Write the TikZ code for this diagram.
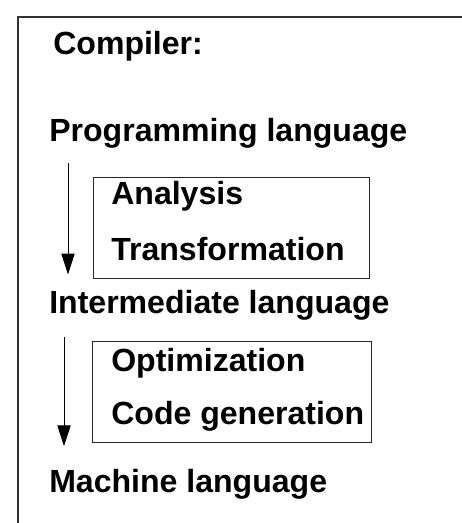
\documentclass[tikz,border=0pt]{standalone}
\usepackage{fontspec}
\setmainfont{Liberation Sans}
\usepackage{tikz}
\usetikzlibrary{arrows.meta,positioning}
\tikzset{>=stealth}

\begin{document}
\begin{tikzpicture}[every node/.style={font=\fontsize{22.8}{27}\selectfont\bfseries, inner sep=0pt, anchor=base west},
	stagebox/.style={draw=black!85, line width=0.6pt},
	flow/.style={line width=0.6pt, -{Triangle[length=5.2mm,width=3.3mm]}}]
	\useasboundingbox (0,0) rectangle (11.55,13.075);
	% frame (runs off the page on the right and bottom)
	\draw[line width=0.8pt, black!80] (0.45,-0.5) rectangle (12,12.65);
	% title
	\node (title) at (1.325,11.7) {Compiler:};
	% languages
	\node (prog) at (1.225,9.525) {Programming language};
	\node (inter) at (1.225,5.225) {Intermediate language};
	\node (mach) at (1.225,0.75) {Machine language};
	% first stage
	\draw[stagebox] (2.325,6.125) rectangle (9.225,8.65);
	\node (ana) at (2.775,7.95) {Analysis};
	\node (trans) at (2.775,6.55) {Transformation};
	% second stage
	\draw[stagebox] (2.3,2.025) rectangle (9.275,4.55);
	\node (opt) at (2.775,3.775) {Optimization};
	\node (gen) at (2.775,2.45) {Code generation};
	% arrows
	\draw[flow, shorten <=3.5mm, shorten >=4mm] ([xshift=4.75mm]prog.south west) -- ([xshift=4.75mm]inter.north west);
	\draw[flow, shorten <=4mm, shorten >=5.8mm] ([xshift=3.75mm]inter.south west) -- ([xshift=3.75mm]mach.north west);
\end{tikzpicture}
\end{document}
